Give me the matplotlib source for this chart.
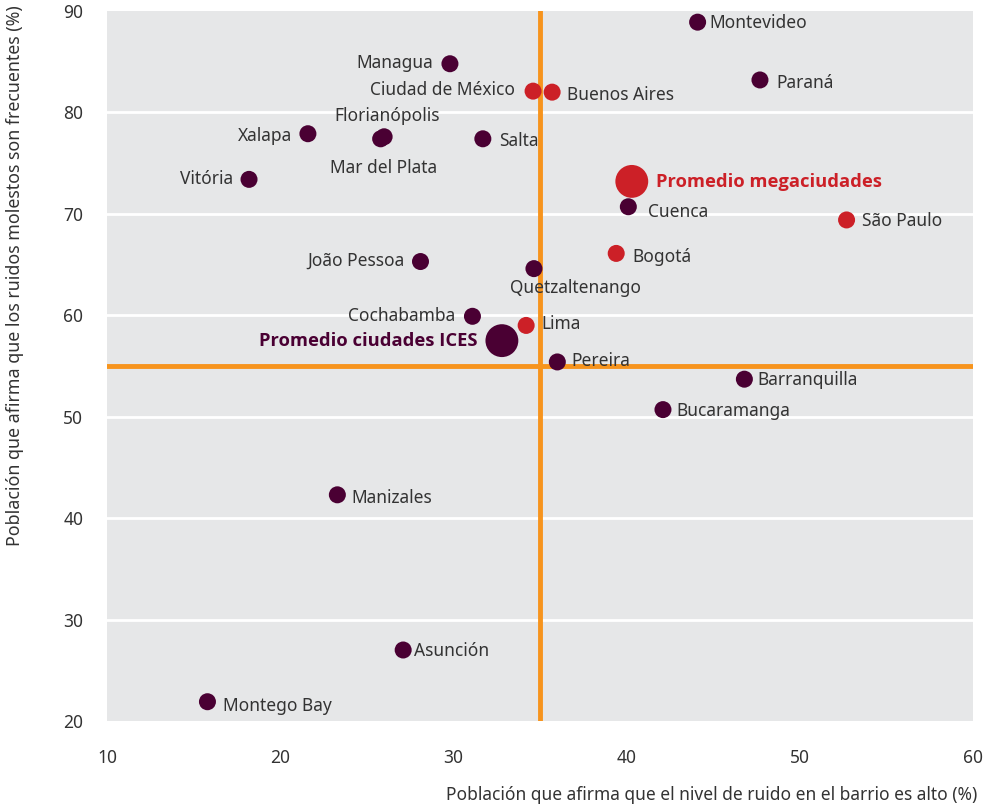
import matplotlib
matplotlib.use("Agg")
import matplotlib.pyplot as plt

# data
cities = ["Montevideo", "Paraná", "Managua", "Ciudad de México", "Buenos Aires",
          "Florianópolis", "Mar del Plata", "Xalapa", "Salta", "Vitória",
          "Promedio megaciudades", "Cuenca", "São Paulo", "Bogotá", "João Pessoa",
          "Quetzaltenango", "Cochabamba", "Lima", "Promedio ciudades ICES", "Pereira",
          "Barranquilla", "Bucaramanga", "Manizales", "Asunción", "Montego Bay"]
ruido_alto = [44.1, 47.7, 29.8, 34.6, 35.7,
              26.0, 25.8, 21.6, 31.7, 18.2,
              40.3, 40.1, 52.7, 39.4, 28.1,
              34.65, 31.1, 34.2, 32.8, 36.0,
              46.8, 42.1, 23.3, 27.1, 15.8]
ruidos_frecuentes = [88.9, 83.2, 84.8, 82.1, 82.0,
                     77.6, 77.4, 77.9, 77.4, 73.4,
                     73.2, 70.7, 69.4, 66.1, 65.3,
                     64.6, 59.9, 59.0, 57.5, 55.4,
                     53.7, 50.7, 42.3, 27.0, 21.9]
# "mega" = megaciudad, "ices" = ciudad ICES, "avg_*" = promedios
grupo = ["ices", "ices", "ices", "mega", "mega",
         "ices", "ices", "ices", "ices", "ices",
         "avg_mega", "ices", "mega", "mega", "ices",
         "ices", "ices", "mega", "avg_ices", "ices",
         "ices", "ices", "ices", "ices", "ices"]
promedio_x = 35.0
promedio_y = 55.0

PURPLE = "#4a0033"
RED = "#cc2027"
ORANGE = "#f7941d"
BG = "#e6e7e8"
TXT = "#333333"
FONT = "Noto Sans"
FS = 12.5

# label placement: (dx px, dy px, ha)
label_pos = {
    "Montevideo": (12, -1, "left"), "Paraná": (16, -3, "left"),
    "Managua": (-17, 1, "right"), "Ciudad de México": (-18, 1, "right"),
    "Buenos Aires": (15, -3, "left"), "Florianópolis": (3, 21, "center"),
    "Mar del Plata": (3, -29, "center"), "Xalapa": (-16, -2, "right"),
    "Salta": (16, -2, "left"), "Vitória": (-16, 0, "right"),
    "Promedio megaciudades": (24, -1, "left"), "Cuenca": (20, -5, "left"),
    "São Paulo": (15, -1, "left"), "Bogotá": (16, -4, "left"),
    "João Pessoa": (-16, 1, "right"), "Quetzaltenango": (-24, -19, "left"),
    "Cochabamba": (-17, 0, "right"), "Lima": (15, 1, "left"),
    "Promedio ciudades ICES": (-24, 0, "right"), "Pereira": (14, 1, "left"),
    "Barranquilla": (13, -1, "left"), "Bucaramanga": (13, -1, "left"),
    "Manizales": (14, -3, "left"), "Asunción": (11, -1, "left"),
    "Montego Bay": (16, -4, "left"),
}

plt.rcParams["font.family"] = [FONT, "DejaVu Sans"]

fig = plt.figure(figsize=(9.85, 8.09), dpi=100)
ax = fig.add_axes([107 / 985, 1 - 721 / 809, (973 - 107) / 985, (721 - 11) / 809])
ax.set_facecolor(BG)
ax.set_xlim(10, 60)
ax.set_ylim(20, 90)

for yv in range(30, 90, 10):
    ax.axhline(yv, color="white", lw=2, zorder=1)
ax.axvline(promedio_x, color=ORANGE, lw=3.5, zorder=2)
ax.axhline(promedio_y, color=ORANGE, lw=3.5, zorder=2)

for name, x, y, g in zip(cities, ruido_alto, ruidos_frecuentes, grupo):
    color = RED if g in ("mega", "avg_mega") else PURPLE
    size = 560 if g.startswith("avg") else 150
    ax.scatter(x, y, s=size, color=color, edgecolors="none", zorder=3)
    dx, dy, ha = label_pos[name]
    if g.startswith("avg"):
        ax.annotate(name, (x, y), xytext=(dx, dy), textcoords="offset pixels",
                    ha=ha, va="center", fontsize=13.2, fontweight="bold", color=color,
                    family=["Open Sans", "Lato", "DejaVu Sans"])
    else:
        ax.annotate(name, (x, y), xytext=(dx, dy), textcoords="offset pixels",
                    ha=ha, va="center", fontsize=FS, color=TXT)

for s in ax.spines.values():
    s.set_visible(False)
ax.set_xticks(range(10, 61, 10))
ax.set_yticks(range(20, 91, 10))
ax.tick_params(length=0, labelsize=FS, labelcolor=TXT)
ax.tick_params(axis="x", pad=20)
ax.tick_params(axis="y", pad=17)

fig.text(977 / 985, 1 - 795 / 809, "Población que afirma que el nivel de ruido en el barrio es alto (%)",
         ha="right", va="center", fontsize=FS, color=TXT)
fig.text(15 / 985, 1 - 5 / 809, "Población que afirma que los ruidos molestos son frecuentes (%)",
         ha="center", va="top", rotation=90, fontsize=12.8, color=TXT)

fig.savefig("out.png", dpi=100)
